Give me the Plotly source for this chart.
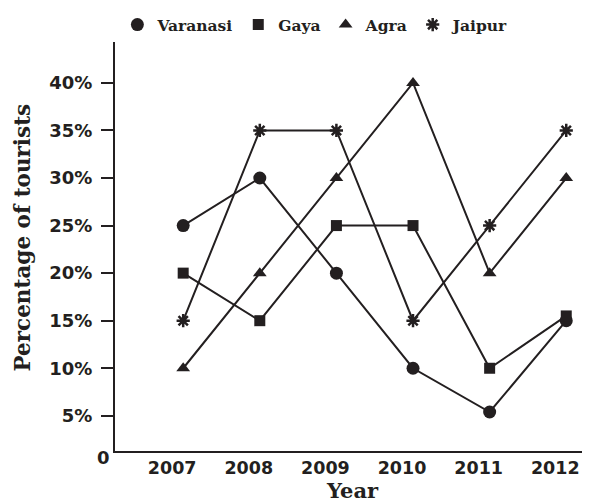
import plotly.graph_objects as go

years = [2007, 2008, 2009, 2010, 2011, 2012]
year_labels = ["2007", "2008", "2009", "2010", "2011", "2012"]
varanasi = [25, 30, 20, 10, 5.4, 15]
gaya = [20, 15, 25, 25, 10, 15.5]
agra = [10, 20, 30, 40, 20, 30]
jaipur = [15, 35, 35, 15, 25, 35]
y_ticks = [5, 10, 15, 20, 25, 30, 35, 40]
y_tick_labels = ["5%", "10%", "15%", "20%", "25%", "30%", "35%", "40%"]

INK = "#231f20"
SANS = "DejaVu Sans"
SERIF = "DejaVu Serif"

series = [
    ("Varanasi", varanasi, dict(symbol="circle", size=13, color=INK)),
    ("Gaya", gaya, dict(symbol="square", size=11, color=INK)),
    ("Agra", agra, dict(symbol="triangle-up", size=12, color=INK)),
    ("Jaipur", jaipur, dict(symbol="asterisk", size=11, color=INK,
                            line=dict(color=INK, width=2.5))),
]

fig = go.Figure()
for name, vals, mk in series:
    fig.add_trace(go.Scatter(
        x=years, y=vals, name=name, mode="lines+markers",
        line=dict(color=INK, width=2), marker=mk, showlegend=False,
    ))
# legend entries show the symbol only
for name, vals, mk in series:
    fig.add_trace(go.Scatter(
        x=[None], y=[None], name=name, mode="markers", marker=mk, showlegend=True,
    ))

# page body has an 8px margin, so the figure is 8px smaller than the window
fig.update_layout(
    width=582, height=496,
    margin=dict(l=107, r=0, t=17, b=53),
    paper_bgcolor="white", plot_bgcolor="white",
    legend=dict(orientation="h", x=0.005, xanchor="left", y=1.0, yanchor="bottom",
                font=dict(family=SERIF, size=15.5, color=INK, weight="bold"),
                itemwidth=30, bgcolor="rgba(0,0,0,0)", tracegroupgap=0),
    xaxis=dict(
        range=[2006.11, 2012.31], tickmode="array", tickvals=years, ticktext=year_labels,
        showgrid=False, zeroline=False, showline=True, linecolor=INK, linewidth=2,
        ticks="", ticklabelshift=-11,
        tickfont=dict(family=SANS, size=17.5, color=INK, weight="bold"),
        title=dict(text="Year", font=dict(family=SERIF, size=21, color=INK, weight="bold"),
                   standoff=4),
    ),
    yaxis=dict(
        range=[1.3, 44.3], tickmode="array", tickvals=y_ticks, ticktext=y_tick_labels,
        showgrid=False, zeroline=False, showline=True, linecolor=INK, linewidth=2,
        ticks="outside", ticklen=12, tickwidth=2, tickcolor=INK, ticklabelstandoff=5,
        tickfont=dict(family=SANS, size=18, color=INK, weight="bold"),
    ),
)

fig.add_annotation(
    x=0, xref="paper", y=0.5, yref="paper", text="Percentage of tourists",
    textangle=-90, showarrow=False, xanchor="center", yanchor="middle",
    xshift=-93, yshift=9,
    font=dict(family=SERIF, size=21.5, color=INK, weight="bold"),
)

fig.add_annotation(
    x=0, xref="paper", y=0, yref="paper", text="0", showarrow=False,
    xanchor="right", yanchor="middle", xshift=-3, yshift=-6,
    font=dict(family=SANS, size=18, color=INK, weight="bold"),
)

fig.write_html("out.html")
